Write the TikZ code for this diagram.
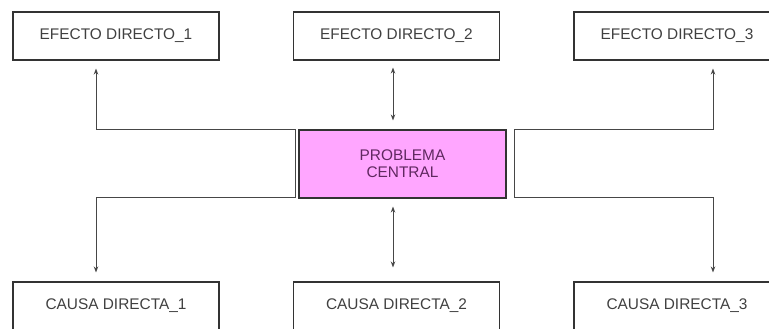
\documentclass[tikz,border=0pt]{standalone}
\usepackage{fontspec}
\setmainfont{Liberation Sans}
\usetikzlibrary{arrows.meta}

\definecolor{rosa}{RGB}{255,166,255}
\definecolor{morado}{RGB}{96,40,96}
\definecolor{linea}{RGB}{70,70,70}

\begin{document}
\begin{tikzpicture}[x=1pt,y=-1pt,
    caja/.style={draw=black!80, line width=1.1pt, minimum width=206pt, minimum height=48pt,
      inner sep=0pt, font=\fontsize{15.4}{17}\selectfont, text=black!75},
    conn/.style={linea, line width=0.9pt, >={Stealth[length=6pt,width=4.5pt]}}]
    \clip (0,0) rectangle (769,329);

    % Efectos directos
    \node[caja] (e1) at (116,36) {EFECTO DIRECTO\_1};
    \node[caja] (e2) at (396.5,36) {EFECTO DIRECTO\_2};
    \node[caja] (e3) at (677,36) {EFECTO DIRECTO\_3};

    % Problema central
    \node[caja, fill=rosa, minimum width=207pt, minimum height=68pt, align=center,
      text=morado] (pc) at (402.5,164) {PROBLEMA\\CENTRAL};

    % Causas directas
    \node[caja] (c1) at (116,306) {CAUSA DIRECTA\_1};
    \node[caja] (c2) at (396.5,306) {CAUSA DIRECTA\_2};
    \node[caja] (c3) at (677,306) {CAUSA DIRECTA\_3};

    % Puntos de quiebre
    \coordinate (a1) at (96,129);
    \coordinate (b1) at (96,197);
    \coordinate (a3) at (713,129);
    \coordinate (b3) at (713,197);
    \coordinate (m) at (393,0);

    % Conectores laterales
    \draw[conn,<->,shorten <=8pt,shorten >=9pt] (e1.south -| a1) -- (a1) -| (295,197) -- (b1) -- (c1.north -| b1);
    \draw[conn,<->,shorten <=8pt,shorten >=9pt] (e3.south -| a3) -- (a3) -| (514,197) -- (b3) -- (c3.north -| b3);

    % Conectores centrales
    \draw[conn,<->,shorten <=7pt,shorten >=9pt] (e2.south -| m) -- (pc.north -| m);
    \draw[conn,<->,shorten <=8pt,shorten >=14pt] (pc.south -| m) -- (c2.north -| m);

\end{tikzpicture}
\end{document}
